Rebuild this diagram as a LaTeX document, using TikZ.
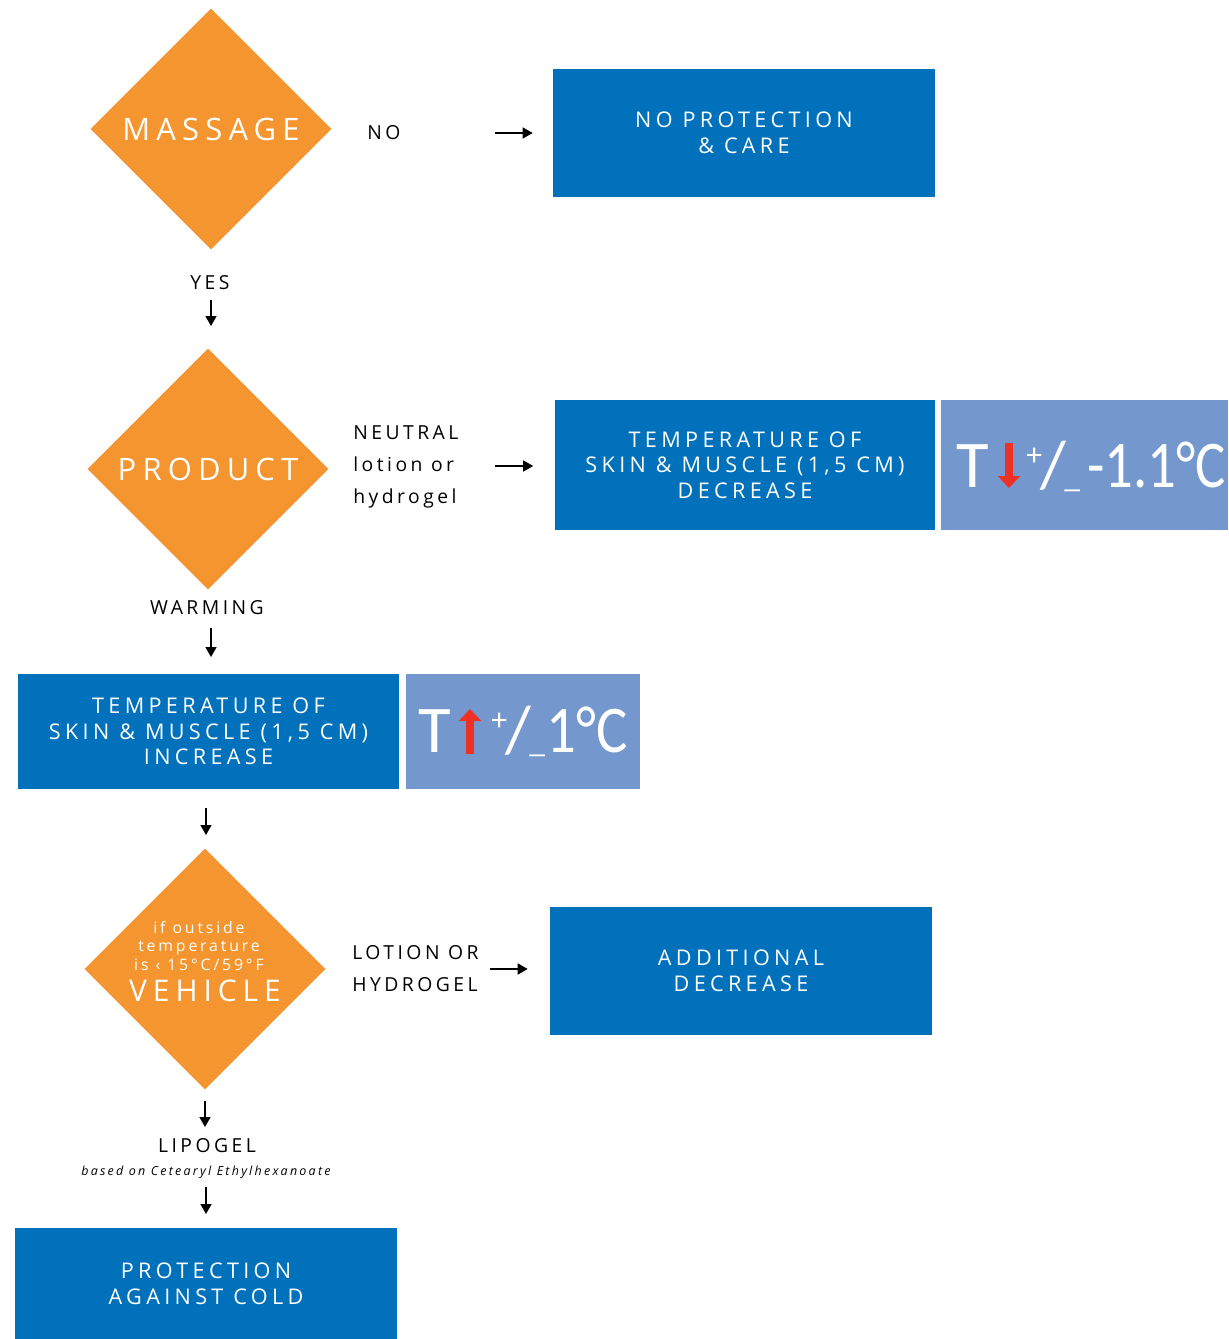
\documentclass[tikz,border=0pt]{standalone}
\usepackage{fontspec}
\setmainfont{Open Sans}
\newfontfamily\widefont[LetterSpace=20]{Open Sans}
\newfontfamily\labelfont[LetterSpace=18]{Open Sans}
\newfontfamily\tempfont{Carlito}
\usetikzlibrary{shapes.geometric,arrows.meta,positioning}
\definecolor{floworange}{HTML}{F4952F}
\definecolor{flowblue}{HTML}{0071BA}
\definecolor{flowlight}{HTML}{7498CD}
\definecolor{flowred}{HTML}{EE3124}
\newcommand{\plusminus}{{\fontsize{18}{18}\selectfont\raisebox{12pt}{+}}\kern-1pt/\kern-1pt{\fontsize{18}{18}\selectfont\_}}
\tikzset{
  decision/.style={diamond,fill=floworange,minimum width=4.82cm,minimum height=4.82cm,
    inner sep=0pt,text=white,font=\widefont\fontsize{17.6}{20}\selectfont},
  bluebox/.style={fill=flowblue,text=white,align=center,inner sep=0pt,
    minimum width=7.64cm,minimum height=2.56cm,font=\widefont\fontsize{12.3}{14.6}\selectfont,
    execute at begin node=\rule{0pt}{1em}},
  tempbox/.style={fill=flowlight,inner sep=0pt,minimum height=2.6cm},
  tempnum/.style={text=white,inner sep=0pt,anchor=base west,font=\tempfont\fontsize{38}{40}\selectfont},
  redarrow/.style={flowred,line width=0.17cm,-{Triangle[length=0.24cm,width=0.44cm]}},
  flowlabel/.style={inner sep=0pt,font=\labelfont\fontsize{11}{18.2}\selectfont},
  flowarrow/.style={line width=0.8pt,-{Triangle[length=0.2cm,width=0.22cm]}}
}
\begin{document}
\begin{tikzpicture}[x=0.02cm,y=-0.02cm]
\useasboundingbox (0,0) rectangle (1228,1339);
% decisions
\node[decision] (massage) at (211,129) {MASSAGE};
\node[decision] (product) at (208,469) {PRODUCT};
\node[decision] (vehicle) at (205,969) {};
\node[text=white,align=center,inner sep=0pt,
  font=\labelfont\fontsize{9}{10.6}\selectfont] (vehcond) at (199,946)
  {if outside\\temperature\\is ‹ 15°C/59°F};
\node[text=white,inner sep=0pt,font=\widefont\fontsize{17}{20}\selectfont]
  (vehname) at (205,991) {VEHICLE};
% boxes
\node[bluebox] (noprot) at (744,133) {NO PROTECTION\\\& CARE};
\node[bluebox,minimum width=7.62cm,minimum height=2.6cm] (decr) at (745,465)
  {TEMPERATURE OF\\SKIN \& MUSCLE (1,5 CM)\\DECREASE};
\node[tempbox,minimum width=5.74cm] (tdown) at (1084.5,465) {};
\node[bluebox,minimum width=7.62cm,minimum height=2.3cm] (incr) at (208.5,731.5)
  {TEMPERATURE OF\\SKIN \& MUSCLE (1,5 CM)\\INCREASE};
\node[tempbox,minimum width=4.68cm,minimum height=2.3cm] (tup) at (523,731.5) {};
\node[bluebox] (addit) at (741,971) {ADDITIONAL\\DECREASE};
\node[bluebox,minimum height=2.22cm] (protect) at (206,1283.5)
  {PROTECTION\\AGAINST COLD};
% temperature values
\node[tempnum] (tdownT) at (956,487) {T};
\node[tempnum] (tdownsign) at (1026,487) {\plusminus};
\node[tempnum] (tdownval) at (1087,487) {\scalebox{0.85}[1]{-1.1°C}};
\draw[redarrow] (1009,443) -- (1009,488);
\node[tempnum] (tupT) at (418,752) {T};
\node[tempnum] (tupsign) at (491,752) {\plusminus};
\node[tempnum] (tupval) at (546,752) {\scalebox{0.88}[1]{1°C}};
\draw[redarrow] (470,754) -- (470,709);
% labels
\node[flowlabel] (no) at (384,133) {NO};
\node[flowlabel] (yes) at (210,283) {YES};
\node[flowlabel,align=left,anchor=west] (neutral) at (353,467)
  {NEUTRAL\\lotion or\\hydrogel};
\node[flowlabel] (warming) at (207,608) {WARMING};
\node[flowlabel,align=left,anchor=west] (lotion) at (352,969) {LOTION OR\\HYDROGEL};
\node[flowlabel] (lipogel) at (207,1146) {LIPOGEL};
\node[inner sep=0pt,font=\labelfont\itshape\fontsize{7.1}{9}\selectfont] (based)
  at (206,1172) {based on Cetearyl Ethylhexanoate};
% arrows
\coordinate (noA) at (495,133);
\coordinate (yesA) at (211,300);
\coordinate (yesB) at (211,326);
\coordinate (neuA) at (495,466);
\coordinate (warA) at (211,628);
\coordinate (warB) at (211,657);
\coordinate (vehA) at (206,808);
\coordinate (vehB) at (206,835);
\coordinate (lotA) at (490,969);
\coordinate (lipA) at (205,1101);
\coordinate (lipB) at (205,1127);
\coordinate (protA) at (206,1187);
\coordinate (protB) at (206,1214);
\draw[flowarrow,shorten >=0.4cm] (noA) -- (noA -| noprot.west);
\draw[flowarrow] (yesA) -- (yesB);
\draw[flowarrow,shorten >=0.42cm] (neuA) -- (neuA -| decr.west);
\draw[flowarrow] (warA) -- (warB);
\draw[flowarrow] (vehA) -- (vehB);
\draw[flowarrow,shorten >=0.44cm] (lotA) -- (lotA -| addit.west);
\draw[flowarrow] (lipA) -- (lipB);
\draw[flowarrow] (protA) -- (protB);
\end{tikzpicture}
\end{document}
